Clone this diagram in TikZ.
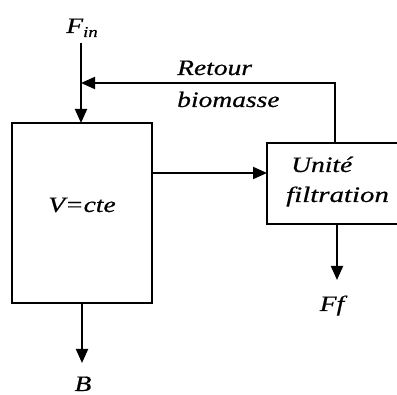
\documentclass[tikz,border=0pt]{standalone}
\usepackage{fontspec}
\setmainfont{Liberation Serif}[FakeStretch=1.25, ItalicFeatures={FakeBold=0.5}]
\usetikzlibrary{arrows.meta}
\begin{document}
\begin{tikzpicture}[x=1pt,y=-1pt,
  every node/.style={font=\fontsize{22}{26}\selectfont\itshape},
  box/.style={draw, rectangle, line width=2pt, outer sep=0pt, inner sep=0pt},
  lbl/.style={inner sep=0pt},
  arr/.style={line width=2pt, -{Triangle[length=14pt,width=12pt]}}]
\useasboundingbox (0,0) rectangle (397,395);
% boxes
\node[box, minimum width=140pt, minimum height=180pt] (reac) at (82,213) {};
\node[box, minimum width=131pt, minimum height=81pt] (filt) at (332.5,183.5) {};
% labels
\node[lbl, anchor=base] (vlbl) at (82,212) {V=cte};
\node[lbl, anchor=base west] (unite) at (291,172) {Unité};
\node[lbl, anchor=base west] (filtr) at (286,202) {\scalebox{1.05}[1]{filtration}};
\node[lbl, anchor=base west] (retour) at (177,75) {Retour};
\node[lbl, anchor=base west] (biom) at (177,107) {biomasse};
\node[lbl, anchor=base] (fin) at (82,33) {F\raisebox{-4pt}{\fontsize{15}{15}\selectfont in}};
\node[lbl, anchor=base] (ff) at (332,311) {Ff};
\node[lbl, anchor=base] (blbl) at (83,391) {B};
% coordinates
\coordinate (fintop) at (81,43);
\coordinate (fbcorner) at (335,83);
\coordinate (mid) at (152,173);
\coordinate (ffx) at (337,224);
% connectors
\draw[arr] (fintop) -- (fintop |- reac.north);
\draw[arr] (fbcorner |- filt.north) -- (fbcorner) -- (fintop |- fbcorner);
\draw[arr] (reac.east |- mid) -- (filt.west |- mid);
\draw[arr] (ffx |- filt.south) -- ++(0,56);
\draw[arr] (reac.south) -- ++(0,60);
\end{tikzpicture}
\end{document}
